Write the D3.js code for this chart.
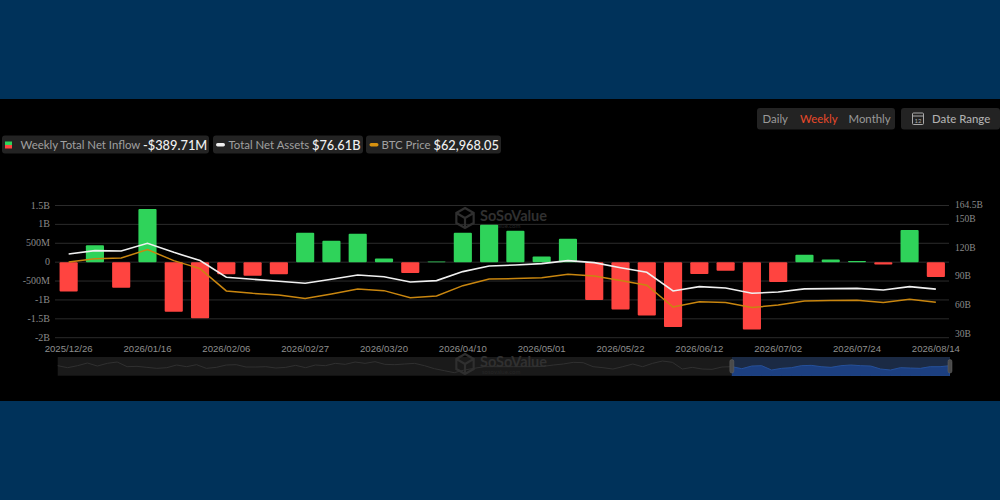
<!DOCTYPE html>
<html><head><meta charset="utf-8">
<script src="https://cdn.jsdelivr.net/npm/d3@7/dist/d3.min.js"></script>
<style>html,body{margin:0;padding:0;background:#00325a;overflow:hidden}svg{display:block}</style>
</head><body><svg id="c" width="1000" height="500"></svg>
<script>
const weeks=["2025/12/26","2026/01/02","2026/01/09","2026/01/16","2026/01/23","2026/01/30","2026/02/06","2026/02/13","2026/02/20","2026/02/27","2026/03/06","2026/03/13","2026/03/20","2026/03/27","2026/04/03","2026/04/10","2026/04/17","2026/04/24","2026/05/01","2026/05/08","2026/05/15","2026/05/22","2026/05/29","2026/06/05","2026/06/12","2026/06/19","2026/06/26","2026/07/02","2026/07/10","2026/07/17","2026/07/24","2026/07/31","2026/08/07","2026/08/14"];
const netInflowM=[-780,450,-680,1410,-1315,-1485,-320,-360,-320,780,570,755,100,-290,20,780,990,830,150,620,-1000,-1255,-1415,-1715,-315,-230,-1785,-525,195,70,30,-60,850,-389.71];
const netAssetsB=[113.3,116.8,116.5,124.5,115,106.4,89,86.9,84.8,82.7,86.9,91.4,89.6,84,85.5,94.9,100.8,101.8,103.2,106.4,104.3,99,94.2,74.7,79.2,77.8,72.2,73.6,76.8,77.1,77.4,75.7,79.2,76.61];
const btcPriceK=[105,108.4,109.1,117.9,106.4,98,74.7,72.2,70.5,66.7,71.5,76.8,75,67.7,69.4,80.2,87.2,87.6,88.6,92.1,90.3,85.5,80.6,57.9,63.5,62.5,57.3,60,64.2,64.6,64.9,62.5,65.9,62.97];
const leftTicks=[1500,1000,500,0,-500,-1000,-1500,-2000];
const leftTickLabels=["1.5B","1B","500M","0","-500M","-1B","-1.5B","-2B"];
const rightTicks=[164.5,150,120,90,60,30];
const rightTickLabels=["164.5B","150B","120B","90B","60B","30B"];
const overview=[30,24,30,38,29,37,41,27,28,25,22,24,32,27,33,22,25,32,33,26,26,27,23,25,31,24,32,30,37,34,41,37,42,34,33,35,37,30,21,15,9,17,22,27,27,27,27,27,27,28,32,35,40,39,27,24,20,27,35,27,37,44,40,20,25,20,19,26,27,21,29,30,17,22,24,30,31,27,25,30,32,30,29,20,17,24,23,22,27,27,30];
const selectedFrom=0.7555;

const svg=d3.select("#c");
const sansLato="Lato, 'Open Sans', sans-serif";
svg.append("rect").attr("y",99).attr("width",1000).attr("height",302).attr("fill","#000");

const x=d3.scaleBand().domain(weeks).range([55.5,949]).paddingInner(0.31).paddingOuter(0.155);
const yL=d3.scaleLinear().domain([-2000,1500]).range([337.7,205.5]);
const yR=d3.scaleLinear().domain([30,164.5]).range([333.7,205]);
const cx=d=>x(d)+x.bandwidth()/2;

// grid
svg.append("g").selectAll("line").data(leftTicks).join("line")
 .attr("x1",55).attr("x2",949).attr("y1",d=>yL(d)).attr("y2",d=>yL(d))
 .attr("stroke","#2b2b2b").attr("stroke-width",1);

// watermark
function watermark(g,tx,ty){
 const h=d3.path(),r=10;
 for(let i=0;i<6;i++){const a=Math.PI/3*i-Math.PI/2;const px=tx+r*Math.cos(a),py=ty+r*Math.sin(a);i?h.lineTo(px,py):h.moveTo(px,py);}
 h.closePath();h.moveTo(tx,ty);h.lineTo(tx,ty+r);h.moveTo(tx,ty);h.lineTo(tx-r*.86,ty-r*.5);h.moveTo(tx,ty);h.lineTo(tx+r*.86,ty-r*.5);
 g.append("path").attr("d",h.toString()).attr("fill","none").attr("stroke","#2f2f2f").attr("stroke-width",2.2);
 g.append("text").attr("x",tx+15).attr("y",ty+3).attr("font-family",sansLato).attr("font-size",14.5).attr("font-weight",700).attr("fill","#303030").text("SoSoValue");
 g.append("text").attr("x",tx+17).attr("y",ty+10).attr("font-family",sansLato).attr("font-size",6).attr("fill","#262626").text("sosovalue.com");
}
watermark(svg.append("g"),465,218);

// bars
svg.append("g").selectAll("rect").data(weeks).join("rect")
 .attr("x",d=>x(d)).attr("width",x.bandwidth())
 .attr("y",(d,i)=>yL(Math.max(0,netInflowM[i])))
 .attr("height",(d,i)=>Math.abs(yL(netInflowM[i])-yL(0)))
 .attr("rx",1).attr("fill",(d,i)=>netInflowM[i]>=0?"#2fd35a":"#ff4440");

// lines
const line=d3.line().x((v,i)=>cx(weeks[i])).y(v=>yR(v));
svg.append("path").attr("d",line(btcPriceK)).attr("fill","none").attr("stroke","#c9860f").attr("stroke-width",1.5);
svg.append("path").attr("d",line(netAssetsB)).attr("fill","none").attr("stroke","#f0f0f0").attr("stroke-width",1.6);

// axes text
svg.append("g").selectAll("text").data(leftTicks).join("text")
 .attr("x",50).attr("y",d=>yL(d)+3).attr("text-anchor","end")
 .attr("font-family","'Liberation Serif',serif").attr("font-size",10).attr("fill","#8a8a8a")
 .text((d,i)=>leftTickLabels[i]);
svg.append("g").selectAll("text").data(rightTicks).join("text")
 .attr("x",955).attr("y",d=>yR(d)+3)
 .attr("font-family","'Liberation Serif',serif").attr("font-size",9.5).attr("fill","#8a8a8a")
 .text((d,i)=>rightTickLabels[i]);
svg.append("g").selectAll("text").data(weeks.filter((d,i)=>i%3===0)).join("text")
 .attr("x",d=>cx(d)).attr("y",351.5).attr("text-anchor","middle")
 .attr("font-family","'Liberation Sans',sans-serif").attr("font-size",9.6).attr("fill","#8f8f8f").text(d=>d);

// overview strip
const ox=d3.scaleLinear().domain([0,overview.length-1]).range([57.7,950]);
const oy=d3.scaleLinear().domain([0,56]).range([375.7,357]);
const selX=57.7+(950-57.7)*selectedFrom;
svg.append("rect").attr("x",57.7).attr("y",357).attr("width",selX-57.7).attr("height",18.7).attr("fill","#1a1a1a");
svg.append("rect").attr("x",selX).attr("y",357).attr("width",950-selX).attr("height",18.7).attr("fill","#1b2a44");
svg.append("path").attr("d",d3.line().x((v,i)=>ox(i)).y(v=>oy(v))(overview)).attr("fill","none").attr("stroke","#303030").attr("stroke-width",1);
svg.append("clipPath").attr("id","sel").append("rect").attr("x",selX).attr("y",357).attr("width",950-selX).attr("height",18.7);
svg.append("path").attr("clip-path","url(#sel)").attr("d",d3.area().x((v,i)=>ox(i)).y0(375.7).y1(v=>oy(v))(overview)).attr("fill","#1c3f80").attr("stroke","#24509c");
watermark(svg.append("g"),465,364);
[selX,950].forEach(h=>svg.append("rect").attr("x",h-2).attr("y",359.5).attr("width",4).attr("height",13.5).attr("rx",2).attr("fill","#4a4a4a").attr("stroke","#666").attr("stroke-width",.5));

// pill helper
const pill=(px,py,w,h)=>svg.append("rect").attr("x",px).attr("y",py).attr("width",w).attr("height",h).attr("rx",3).attr("fill","#232323");
const label=(tx,ty,s,fs,col,fw)=>svg.append("text").attr("x",tx).attr("y",ty).attr("font-family",sansLato).attr("font-size",fs).attr("font-weight",fw||400).attr("fill",col).text(s);

// legend
pill(2,135.5,207,18); pill(213,135.5,150,18); pill(366,135.5,135,18);
svg.append("rect").attr("x",5).attr("y",141.5).attr("width",7).attr("height",3.5).attr("fill","#2fd35a");
svg.append("rect").attr("x",5).attr("y",145).attr("width",7).attr("height",3.5).attr("fill","#ff4440");
label(20.5,149,"Weekly Total Net Inflow",11.4,"#a0a0a0");
label(143,149.5,"-$389.71M",12.8,"#f0f0f0",500);
svg.append("rect").attr("x",216).attr("y",143).attr("width",9).attr("height",3.5).attr("rx",1.7).attr("fill","#f0f0f0");
label(228.5,149,"Total Net Assets",11.4,"#a0a0a0");
label(312,149.5,"$76.61B",12.8,"#f0f0f0",500);
svg.append("rect").attr("x",369.5).attr("y",143).attr("width",9).attr("height",3.5).attr("rx",1.7).attr("fill","#d8920f");
label(381.5,149,"BTC Price",11.4,"#a0a0a0");
label(433.5,149.5,"$62,968.05",12.8,"#f0f0f0",500);

// controls
pill(757,108,138,21.5); pill(901,108,99,21.5);
label(762.5,123,"Daily",11.4,"#9a9a9a");
label(800,123,"Weekly",11.4,"#e8492a");
label(848.5,123,"Monthly",11.4,"#9a9a9a");
svg.append("rect").attr("x",912.5).attr("y",113).attr("width",11).attr("height",11.5).attr("rx",1).attr("fill","none").attr("stroke","#aaa");
svg.append("line").attr("x1",912.5).attr("x2",923.5).attr("y1",116).attr("y2",116).attr("stroke","#aaa");
svg.append("text").attr("x",918).attr("y",123).attr("text-anchor","middle").attr("font-family",sansLato).attr("font-size",6).attr("fill","#aaa").text("12");
label(932,123,"Date Range",11.4,"#b0b0b0",500);
</script></body></html>
